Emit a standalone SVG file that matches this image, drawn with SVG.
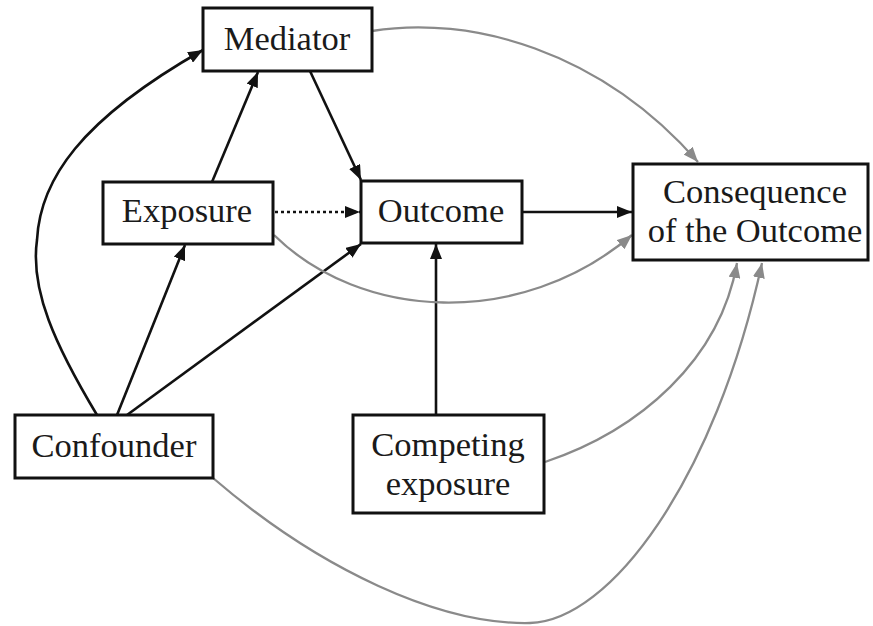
<svg xmlns="http://www.w3.org/2000/svg" width="873" height="626" viewBox="0 0 873 626">
<style>
.box{fill:#fff;stroke:#111;stroke-width:3}
.lbl{font-family:"Liberation Serif","Times New Roman",serif;font-size:34.5px;fill:#1a1a1a;text-anchor:middle}
.blk{fill:none;stroke:#111;stroke-width:2.6;marker-end:url(#ab)}
.gry{fill:none;stroke:#8a8a8a;stroke-width:2.3;marker-end:url(#ag)}
.dot{fill:none;stroke:#111;stroke-width:2.6;stroke-dasharray:3 3;marker-end:url(#ab)}
</style>
<defs>
<marker id="ab" markerUnits="userSpaceOnUse" markerWidth="16" markerHeight="12" refX="15" refY="6" orient="auto"><path d="M0,0 L15,6 L0,12 z" fill="#111"/></marker>
<marker id="ag" markerUnits="userSpaceOnUse" markerWidth="16" markerHeight="12" refX="15" refY="6" orient="auto"><path d="M0,0 L15,6 L0,12 z" fill="#8a8a8a"/></marker>
</defs>
<rect width="873" height="626" fill="#fff"/>
<g id="connectors">
<path class="blk" d="M97,415 C55,345 30,290 37,240 C40,180 80,120 203,50"/>
<path class="blk" d="M212,182 L258,72"/>
<path class="blk" d="M310,71 L361,180"/>
<path class="dot" d="M275,212 L360,212"/>
<path class="blk" d="M117,415 L185,245"/>
<path class="blk" d="M127,415 L361,244"/>
<path class="blk" d="M522,212 L632,212"/>
<path class="blk" d="M436,415 L436,244"/>
<path class="gry" d="M372,31 C470,15 600,50 698,162"/>
<path class="gry" d="M274,235 C360,320 520,330 632,235"/>
<path class="gry" d="M545,462 C640,430 720,360 737,263"/>
<path class="gry" d="M213,478 C320,570 440,625 530,623 C610,621 715,480 762,263"/>
</g>
<g id="mediator"><rect class="box" x="203" y="8" width="169" height="63"/><text class="lbl" x="287" y="50">Mediator</text></g>
<g id="exposure"><rect class="box" x="103" y="182" width="170" height="62"/><text class="lbl" x="187" y="222">Exposure</text></g>
<g id="outcome"><rect class="box" x="361" y="181" width="161" height="62"/><text class="lbl" x="441" y="222">Outcome</text></g>
<g id="consequence"><rect class="box" x="633" y="164" width="235" height="96"/><text class="lbl" x="755" y="203">Consequence</text><text class="lbl" x="755" y="242">of the Outcome</text></g>
<g id="confounder"><rect class="box" x="15" y="415" width="198" height="63"/><text class="lbl" x="114" y="457">Confounder</text></g>
<g id="competing"><rect class="box" x="353" y="415" width="191" height="98"/><text class="lbl" x="448" y="456">Competing</text><text class="lbl" x="448" y="495">exposure</text></g>
</svg>
